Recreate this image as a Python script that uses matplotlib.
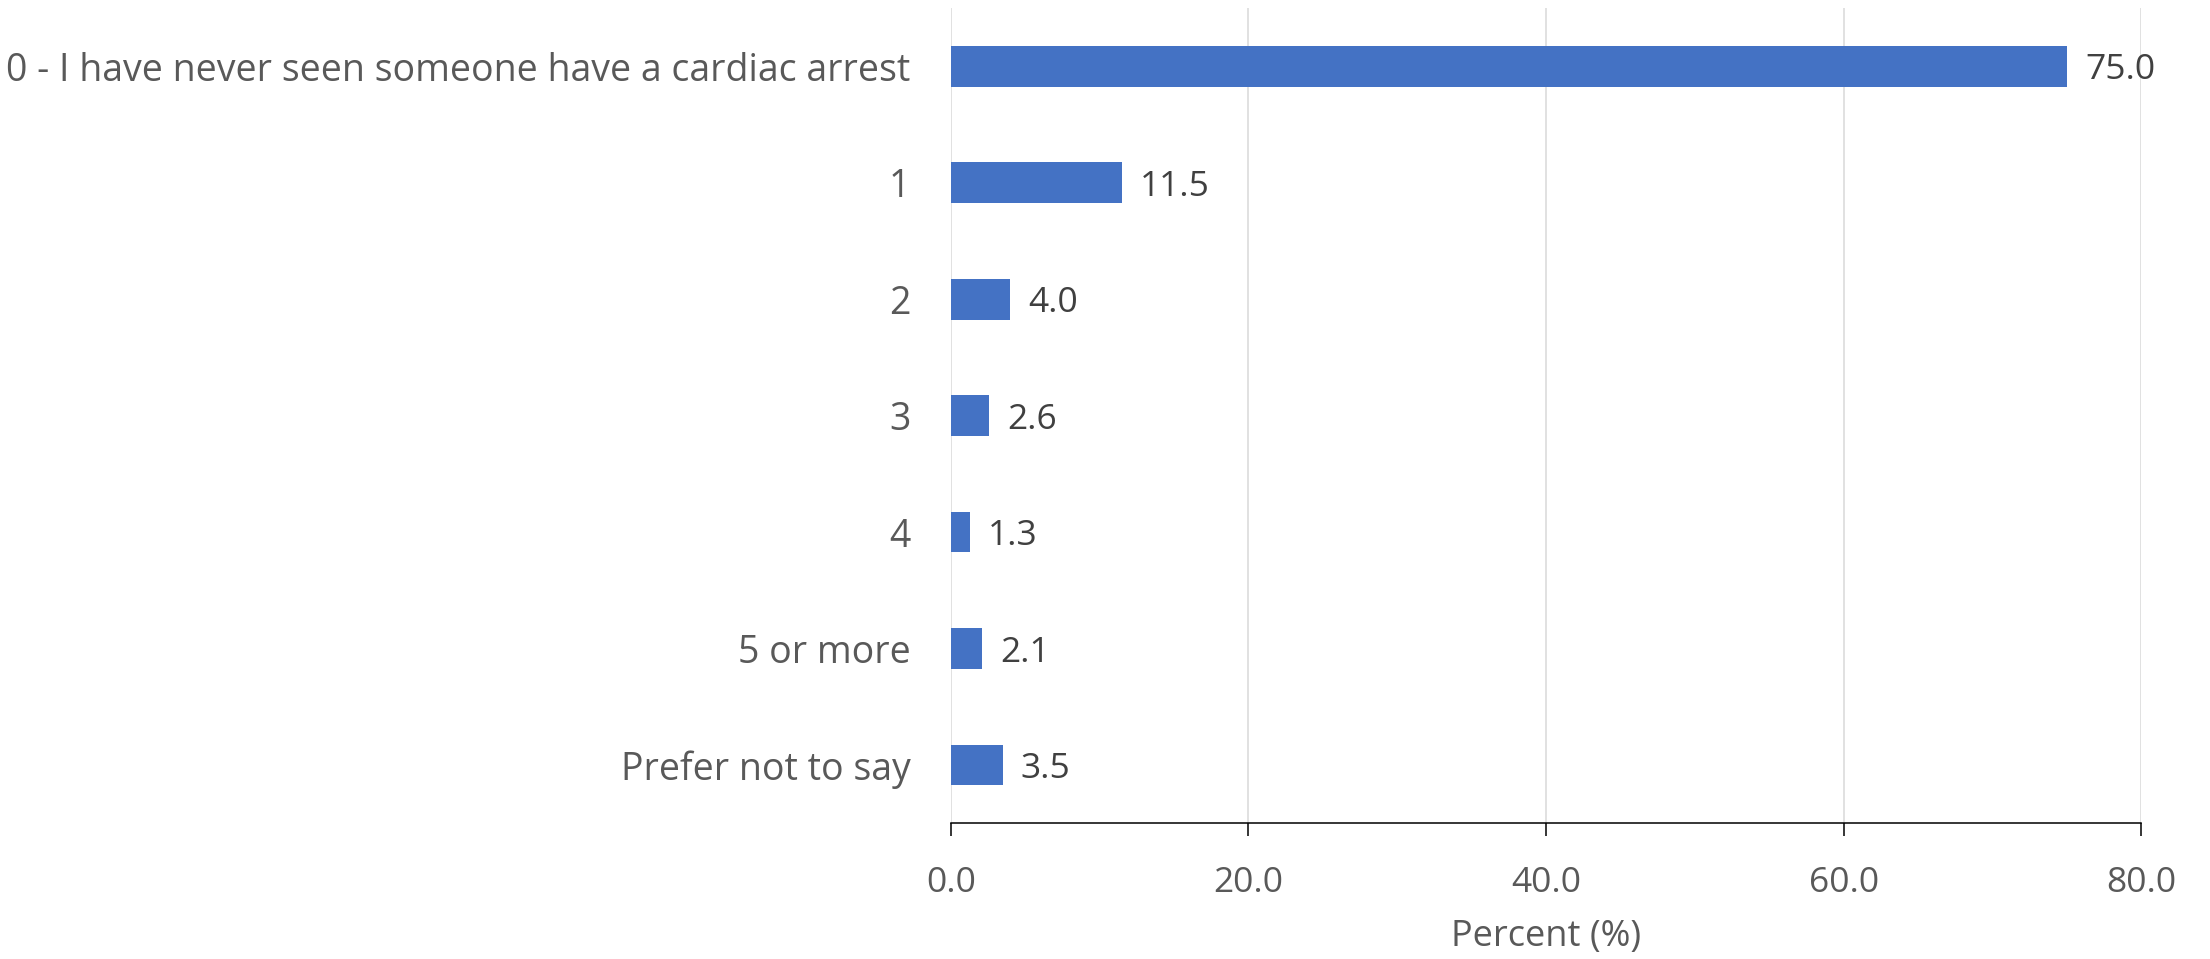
import matplotlib
matplotlib.use("Agg")
import matplotlib.pyplot as plt

categories = ["0 - I have never seen someone have a cardiac arrest", "1", "2", "3", "4",
              "5 or more", "Prefer not to say"]
values = [75.0, 11.5, 4.0, 2.6, 1.3, 2.1, 3.5]
xticks = [0, 20, 40, 60, 80]
xlabel = "Percent (%)"

plt.rcParams['font.family'] = ['Open Sans', 'DejaVu Sans']

fig = plt.figure(figsize=(22.1, 9.59), dpi=100)
ax = fig.add_axes([0.4302, 0.1415, 0.5388, 0.8502])

ypos = list(range(len(categories)))
bars = ax.barh(ypos, values, height=0.35, color="#4472C4", zorder=3)
ax.set_ylim(len(categories) - 0.5, -0.5)
ax.set_xlim(0, 80)
ax.set_yticks(ypos)
ax.set_yticklabels(categories, fontsize=27, color="#595959")
ax.set_xticks(xticks)
ax.set_xticklabels([f"{t:.1f}" for t in xticks], fontsize=25.5, color="#595959")
ax.tick_params(axis='y', length=0, pad=29)
ax.tick_params(axis='x', length=9.4, width=1.1, color="black", direction="out", pad=21)
labels = ax.bar_label(bars, labels=[f"{v:.1f}" for v in values], padding=13, fontsize=25.5, color="#404040")
for t in labels:
    t.set_va("center_baseline")

ax.grid(axis='x', color="#D9D9D9", linewidth=1.1, zorder=0)
for s in ["top", "right", "left"]:
    ax.spines[s].set_visible(False)
ax.spines["bottom"].set_color("black")
ax.spines["bottom"].set_linewidth(1.1)
ax.spines["bottom"].set_zorder(4)

ax.set_xlabel(xlabel, fontsize=26, color="#595959", labelpad=14)

fig.savefig("out.png", dpi=100, facecolor="white")
